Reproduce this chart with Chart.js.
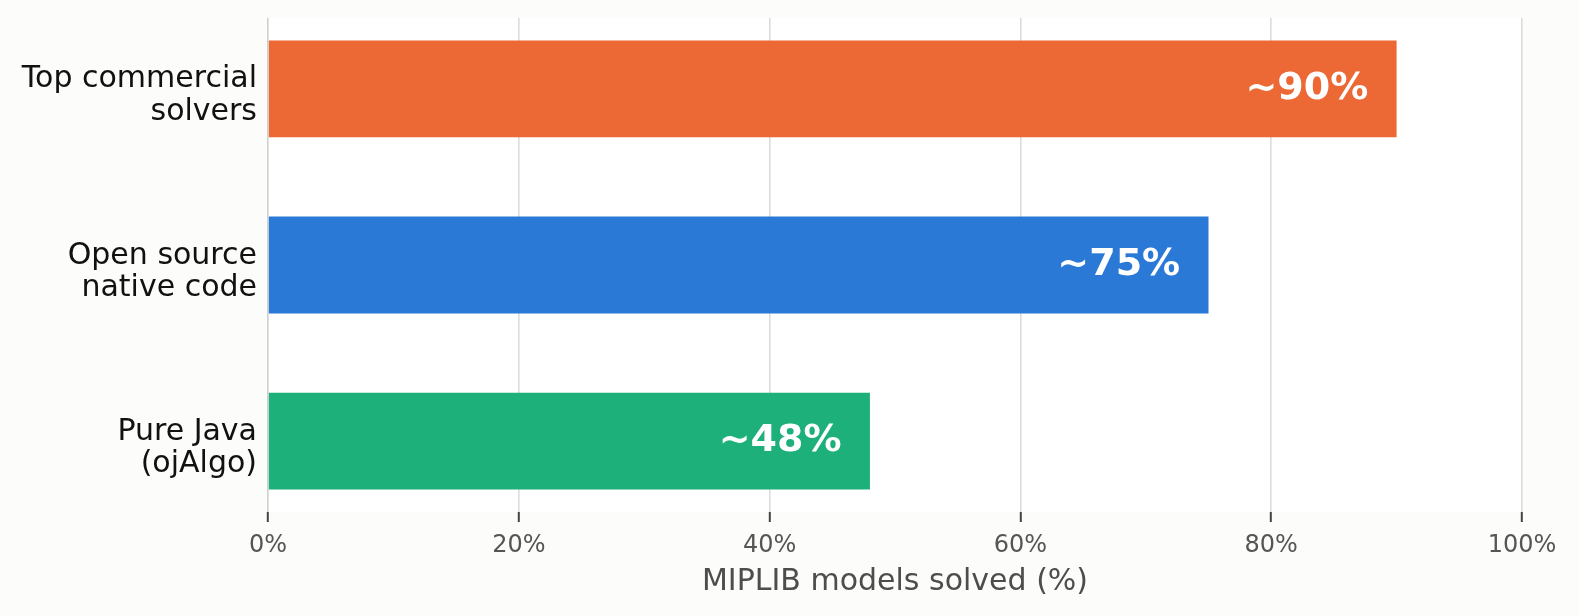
<!DOCTYPE html>
<html>
<head>
<meta charset="utf-8">
<script src="https://cdn.jsdelivr.net/npm/chart.js@4"></script>
<style>
html,body{margin:0;padding:0;background:#fcfcfa;}
#wrap{width:1578px;height:616px;}
</style>
</head>
<body>
<div id="wrap"><canvas id="c" width="1578" height="616"></canvas></div>
<script>
const categories = [["Top commercial", "solvers"], ["Open source", "native code"], ["Pure Java", "(ojAlgo)"]];
const solvedPct = [90, 75, 48];
const valueLabels = ["~90%", "~75%", "~48%"];
const barColors = ["#EC6936", "#2A79D6", "#1DB07B"];
const xTicks = [0, 20, 40, 60, 80, 100];

const FONT = "'DejaVu Sans', sans-serif";

const bgPlugin = {
  id: 'bg',
  beforeDraw(chart) {
    const {ctx, chartArea: a} = chart;
    ctx.save();
    ctx.fillStyle = '#fcfcfa';
    ctx.fillRect(0, 0, chart.width, chart.height);
    ctx.fillStyle = '#ffffff';
    ctx.fillRect(a.left, a.top, a.right - a.left, a.bottom - a.top);
    ctx.restore();
  }
};

const labelPlugin = {
  id: 'barLabels',
  afterDatasetsDraw(chart) {
    const {ctx} = chart;
    const meta = chart.getDatasetMeta(0);
    const xs = chart.scales.x;
    ctx.save();
    ctx.font = "bold 38px " + FONT;
    ctx.fillStyle = '#ffffff';
    ctx.textAlign = 'right';
    ctx.textBaseline = 'middle';
    meta.data.forEach((bar, i) => {
      const px = xs.getPixelForValue(solvedPct[i] - 2.5) + 3;
      ctx.fillText(valueLabels[i], px, bar.y);
    });
    ctx.restore();
  }
};

new Chart(document.getElementById('c'), {
  type: 'bar',
  data: {
    datasets: [{
      data: solvedPct.map((v, i) => ({x: v, y: i})),
      backgroundColor: barColors,
      borderWidth: 0,
      categoryPercentage: 1,
      barPercentage: 0.55
    }]
  },
  options: {
    indexAxis: 'y',
    responsive: false,
    animation: false,
    devicePixelRatio: 1,
    layout: {padding: {left: 0, right: 56, top: 18, bottom: 0}},
    plugins: {legend: {display: false}, tooltip: {enabled: false}},
    scales: {
      x: {
        type: 'linear',
        min: 0, max: 100,
        afterBuildTicks(scale) { scale.ticks = xTicks.map(v => ({value: v})); },
        afterFit(scale) { scale.height = 104; scale.paddingLeft = 0; scale.paddingRight = 0; },
        border: {display: false},
        grid: {
          color: (c) => (c.tick && c.tick.value === 0) ? '#cfcfcf' : '#dcdcdc',
          lineWidth: 1.6,
          drawTicks: true,
          tickLength: 10,
          tickColor: '#444444',
          tickWidth: 2
        },
        ticks: {
          callback: (v) => v + '%',
          font: {family: FONT, size: 24},
          color: '#555555',
          padding: 9,
          maxRotation: 0
        },
        title: {
          display: true,
          text: 'MIPLIB models solved (%)',
          font: {family: FONT, size: 30},
          color: '#4d4d4d',
          padding: {top: 0, bottom: 16}
        }
      },
      y: {
        type: 'linear',
        offset: false,
        reverse: true,
        min: -0.4025, max: 2.4025,
        afterBuildTicks(scale) { scale.ticks = categories.map((c, i) => ({value: i})); },
        afterFit(scale) {
          scale.width = 268; scale.paddingTop = 0; scale.paddingBottom = 0;
          if (!scale._patchedLabels) {
            const orig = scale._computeLabelItems.bind(scale);
            scale._computeLabelItems = (ca) => orig(ca).map(it => { it.textOffset += 7; return it; });
            scale._patchedLabels = true;
          }
        },
        border: {display: false},
        grid: {display: false, drawTicks: false, offset: false},
        ticks: {
          callback: (v) => categories[v],
          font: {family: FONT, size: 30, lineHeight: 1.08},
          color: '#111111',
          padding: 11
        }
      }
    }
  },
  plugins: [bgPlugin, labelPlugin]
});
</script>
</body>
</html>
